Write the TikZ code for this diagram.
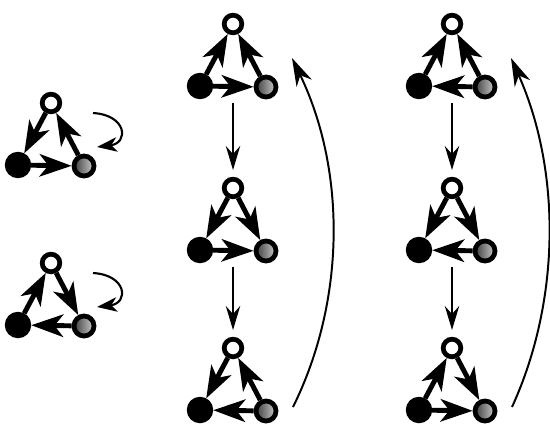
\documentclass[tikz,border=0pt]{standalone}
\usepackage{xcolor}
\usepackage{tikz}
\usetikzlibrary{arrows.meta,calc}
\tikzset{
  wnode/.style ={draw, circle, line width=3.4pt, fill=white, inner sep=0pt, minimum size=0.44cm},
  bnode/.style ={draw, circle, line width=3.4pt, fill=black, inner sep=0pt, minimum size=0.54cm},
  gnode/.style ={draw, circle, line width=3.4pt, left color=black!75, right color=black!20, inner sep=0pt, minimum size=0.5cm},
  edge/.style  ={-{Stealth[length=0.8cm, width=0.56cm, inset=0.22cm]}, line width=3.5pt},
  flow/.style  ={-{Stealth[length=0.6cm, width=0.36cm, inset=0.2cm]}, line width=1.3pt},
  back/.style  ={-{Stealth[length=0.7cm, width=0.42cm, inset=0.22cm]}, line width=1.4pt},
  curl/.style  ={-{Stealth[length=0.5cm, width=0.36cm, inset=0.14cm]}, line width=1.5pt},
}
% one triangle: white top, black lower left, gray lower right
\newcommand{\triad}[3]{%
  \node[wnode] (#1-w) at (#2,#3) {};
  \node[bnode] (#1-b) at (#2-33,#3+62) {};
  \node[gnode] (#1-g) at (#2+33,#3+63) {};
  \coordinate (#1-n) at (#2,#3-18);
  \coordinate (#1-s) at (#2,#3+79);
  \coordinate (#1-r) at (#2+60,#3+59);
  \coordinate (#1-t) at (#2+59,#3+34);
  \coordinate (#1-c) at (#2+42,#3+10);
  \coordinate (#1-d) at (#2+46,#3+44);
}
\begin{document}
\begin{tikzpicture}[x=0.025cm, y=-0.025cm]
  \useasboundingbox (0,0) rectangle (550,423);

  % left pair
  \triad{la}{51}{103}
  \triad{lb}{51}{263}
  \draw[edge] (la-w) -- (la-b);
  \draw[edge] (la-b) -- (la-g);
  \draw[edge] (la-g) -- (la-w);
  \draw[edge] (lb-b) -- (lb-w);
  \draw[edge] (lb-w) -- (lb-g);
  \draw[edge] (lb-g) -- (lb-b);
  \draw[curl] (la-c) .. controls +(34,2) and +(32,-4) .. (la-d);
  \draw[curl] (lb-c) .. controls +(34,2) and +(32,-4) .. (lb-d);

  % middle cycle
  \triad{ma}{233}{24}
  \triad{mb}{233}{188}
  \triad{mc}{233}{348}
  \draw[edge] (ma-b) -- (ma-w);
  \draw[edge] (ma-g) -- (ma-w);
  \draw[edge] (ma-b) -- (ma-g);
  \draw[edge] (mb-w) -- (mb-b);
  \draw[edge] (mb-w) -- (mb-g);
  \draw[edge] (mb-b) -- (mb-g);
  \draw[edge] (mc-w) -- (mc-b);
  \draw[edge] (mc-g) -- (mc-w);
  \draw[edge] (mc-g) -- (mc-b);
  \draw[flow] (ma-s) -- (mb-n);
  \draw[flow] (mb-s) -- (mc-n);
  \draw[back] (mc-r) .. controls +(53,-107) and +(54,112) .. (ma-t);

  % right cycle
  \triad{ra}{452}{24}
  \triad{rb}{452}{188}
  \triad{rc}{452}{348}
  \draw[edge] (ra-b) -- (ra-w);
  \draw[edge] (ra-g) -- (ra-w);
  \draw[edge] (ra-g) -- (ra-b);
  \draw[edge] (rb-w) -- (rb-b);
  \draw[edge] (rb-w) -- (rb-g);
  \draw[edge] (rb-g) -- (rb-b);
  \draw[edge] (rc-b) -- (rc-w);
  \draw[edge] (rc-w) -- (rc-g);
  \draw[edge] (rc-b) -- (rc-g);
  \draw[flow] (ra-s) -- (rb-n);
  \draw[flow] (rb-s) -- (rc-n);
  \draw[back] (rc-r) .. controls +(49,-107) and +(50,112) .. (ra-t);
\end{tikzpicture}
\end{document}
